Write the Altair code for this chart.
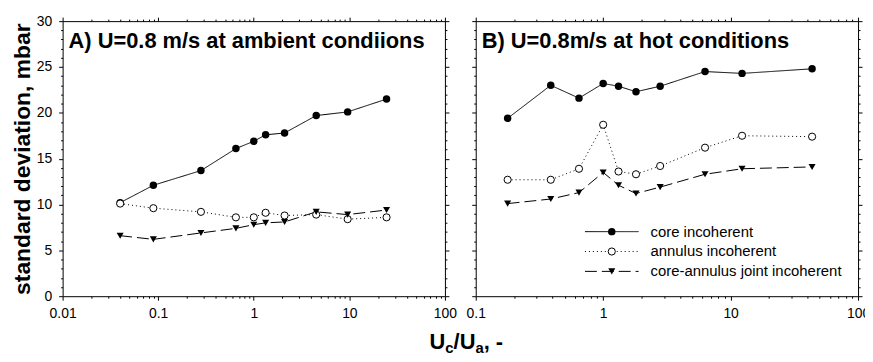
import altair as alt
import pandas as pd

# ---------------- data ----------------
SERIES = ["core incoherent", "annulus incoherent", "core-annulus joint incoherent"]

x_a = [0.04, 0.089, 0.28, 0.65, 1.0, 1.33, 2.1, 4.5, 9.6, 24.5]
core_a = [10.2, 12.1, 13.7, 16.1, 16.9, 17.6, 17.8, 19.7, 20.1, 21.5]
ann_a = [10.1, 9.6, 9.2, 8.6, 8.6, 9.1, 8.8, 8.9, 8.4, 8.6]
joint_a = [6.6, 6.2, 6.9, 7.4, 7.8, 8.0, 8.1, 9.2, 8.9, 9.4]

x_b = [0.178, 0.388, 0.646, 1.0, 1.32, 1.81, 2.8, 6.3, 12.3, 43.6]
core_b = [19.4, 23.0, 21.6, 23.2, 22.9, 22.3, 22.9, 24.5, 24.3, 24.8]
ann_b = [12.7, 12.7, 13.9, 18.7, 13.6, 13.3, 14.2, 16.2, 17.5, 17.4]
joint_b = [10.1, 10.6, 11.3, 13.5, 12.1, 11.2, 11.9, 13.3, 13.9, 14.1]

title_a = "A) U=0.8 m/s at ambient condiions"
title_b = "B) U=0.8m/s at hot conditions"
y_title = "standard deviation, mbar"

# ---------------- styling ----------------
FONT = "Liberation Sans"
W, H = 385, 277
DASHES = [[1, 0], [1, 3], [12, 5]]
TMAJ, TMIN = 4, 2


def long_df(x, core, ann, joint):
    rows = []
    for name, vals in zip(SERIES, [core, ann, joint]):
        for xv, yv in zip(x, vals):
            rows.append({"x": xv, "y": yv, "series": name})
    return pd.DataFrame(rows)


def log_values(e0, e1):
    vals = [round(m * 10 ** e, 6) for e in range(e0, e1) for m in range(1, 10)]
    return vals + [round(10 ** e1, 6)]


MAJ_LOG = "abs(log(datum.value)/LN10 - round(log(datum.value)/LN10)) < 1e-6"
MAJ_Y = "datum.value % 5 === 0"


def x_axis(vals, orient, labels):
    return alt.Axis(
        orient=orient, values=vals, title=None, grid=False,
        labels=labels, labelExpr=f"{MAJ_LOG} ? format(datum.value, '~g') : ''",
        labelFlush=False, labelOverlap=False, labelFont=FONT, labelFontSize=14,
        labelColor="black", labelPadding=6,
        tickSize={"condition": {"test": MAJ_LOG, "value": TMAJ}, "value": TMIN},
        tickColor="black", tickWidth=1, domainColor="black", domainWidth=1,
    )


def y_axis(orient, labels, title):
    kw = dict(
        orient=orient, values=list(range(0, 31)), grid=False,
        labels=labels, labelExpr=f"{MAJ_Y} ? datum.label : ''",
        labelOverlap=False, labelFont=FONT, labelFontSize=14,
        labelColor="black", labelPadding=7,
        tickSize={"condition": {"test": MAJ_Y, "value": TMAJ}, "value": TMIN},
        tickColor="black", tickWidth=1, domainColor="black", domainWidth=1,
    )
    if title:
        kw.update(title=title, titleFont=FONT, titleFontSize=23,
                  titleFontWeight="bold", titleColor="black", titlePadding=2)
    else:
        kw.update(title=None)
    return alt.Axis(**kw)


def panel(df, domain, title, show_ylabels, legend=False, xtitle=False):
    e0 = -2 if domain[0] == 0.01 else -1
    vals = log_values(e0, 2)
    xs = alt.Scale(type="log", domain=domain, nice=False)
    ys = alt.Scale(domain=[0, 30], nice=False, zero=False)

    lines = alt.Chart(df).mark_line(color="black", strokeWidth=1).encode(
        x=alt.X("x:Q", scale=xs, axis=x_axis(vals, "bottom", True)),
        y=alt.Y("y:Q", scale=ys,
                axis=y_axis("left", show_ylabels, y_title if show_ylabels else None)),
        strokeDash=alt.StrokeDash("series:N", scale=alt.Scale(domain=SERIES, range=DASHES),
                                  legend=None),
        detail="series:N",
    )
    mirror = alt.Chart(df).mark_point(opacity=0).encode(
        x=alt.X("x:Q", scale=xs, axis=x_axis(vals, "top", False)),
        y=alt.Y("y:Q", scale=ys, axis=y_axis("right", False, None)),
    )
    enc = dict(x=alt.X("x:Q", scale=xs, axis=None), y=alt.Y("y:Q", scale=ys, axis=None))
    p_core = alt.Chart(df).transform_filter(alt.datum.series == SERIES[0]).mark_point(
        shape="circle", filled=True, color="black", size=56, opacity=1).encode(**enc)
    p_ann = alt.Chart(df).transform_filter(alt.datum.series == SERIES[1]).mark_point(
        shape="circle", filled=True, fill="white", stroke="black", strokeWidth=1,
        size=52, opacity=1).encode(**enc)
    p_joint = alt.Chart(df).transform_filter(alt.datum.series == SERIES[2]).mark_point(
        shape="triangle-down", filled=True, color="black", size=50, opacity=1).encode(**enc)

    ttl = alt.Chart(pd.DataFrame({"t": [title]})).mark_text(
        align="left", baseline="alphabetic", font=FONT, fontSize=22, fontWeight="bold",
        color="black").encode(x=alt.value(6), y=alt.value(27), text="t:N")

    layers = [lines, p_core, p_ann, p_joint, ttl, mirror]

    if legend:
        ys_leg = [212, 232, 252]
        for i, name in enumerate(SERIES):
            one = pd.DataFrame({"label": [name]})
            layers.append(alt.Chart(one).mark_rule(
                color="black", strokeWidth=1, strokeDash=DASHES[i]).encode(
                x=alt.value(110), x2=alt.value(164), y=alt.value(ys_leg[i])))
            if i == 0:
                mk = alt.Chart(one).mark_point(shape="circle", filled=True, color="black",
                                               size=56, opacity=1)
            elif i == 1:
                mk = alt.Chart(one).mark_point(shape="circle", filled=True, fill="white",
                                               stroke="black", strokeWidth=1, size=52,
                                               opacity=1)
            else:
                mk = alt.Chart(one).mark_point(shape="triangle-down", filled=True,
                                               color="black", size=50, opacity=1)
            layers.append(mk.encode(x=alt.value(137), y=alt.value(ys_leg[i])))
            layers.append(alt.Chart(one).mark_text(
                align="left", baseline="middle", font=FONT, fontSize=15,
                color="black").encode(x=alt.value(176), y=alt.value(ys_leg[i]),
                                      text="label:N"))

    if xtitle:
        # "U_c/U_a, -" composed of normal and subscript pieces
        big, small = 22, 15
        pieces = [("U", big, 0), ("c", small, 4), ("/U", big, 0), ("a", small, 4), (", -", big, 0)]
        adv = {"U": 0.722, "c": 0.556, "/": 0.278, "a": 0.556, ",": 0.278, " ": 0.278, "-": 0.333}
        x0 = -46.5
        base = 330
        for txt, fs, dy in pieces:
            layers.append(alt.Chart(pd.DataFrame({"t": [txt]})).mark_text(
                align="left", baseline="alphabetic", font=FONT, fontSize=fs,
                fontWeight="bold", color="black").encode(
                x=alt.value(x0), y=alt.value(base + dy), text="t:N"))
            x0 += sum(adv[ch] for ch in txt) * fs

    return alt.layer(*layers).resolve_axis(x="independent", y="independent").properties(
        width=W, height=H)


df_a = long_df(x_a, core_a, ann_a, joint_a)
df_b = long_df(x_b, core_b, ann_b, joint_b)

chart = alt.hconcat(
    panel(df_a, [0.01, 100], title_a, True),
    panel(df_b, [0.1, 100], title_b, False, legend=True, xtitle=True),
    spacing=31, bounds="flush",
).configure_view(stroke=None).properties(
    background="white", padding={"left": 3, "top": 5, "right": -5, "bottom": 0})

chart.save("out.html", embed_options={"renderer": "svg", "actions": False})
